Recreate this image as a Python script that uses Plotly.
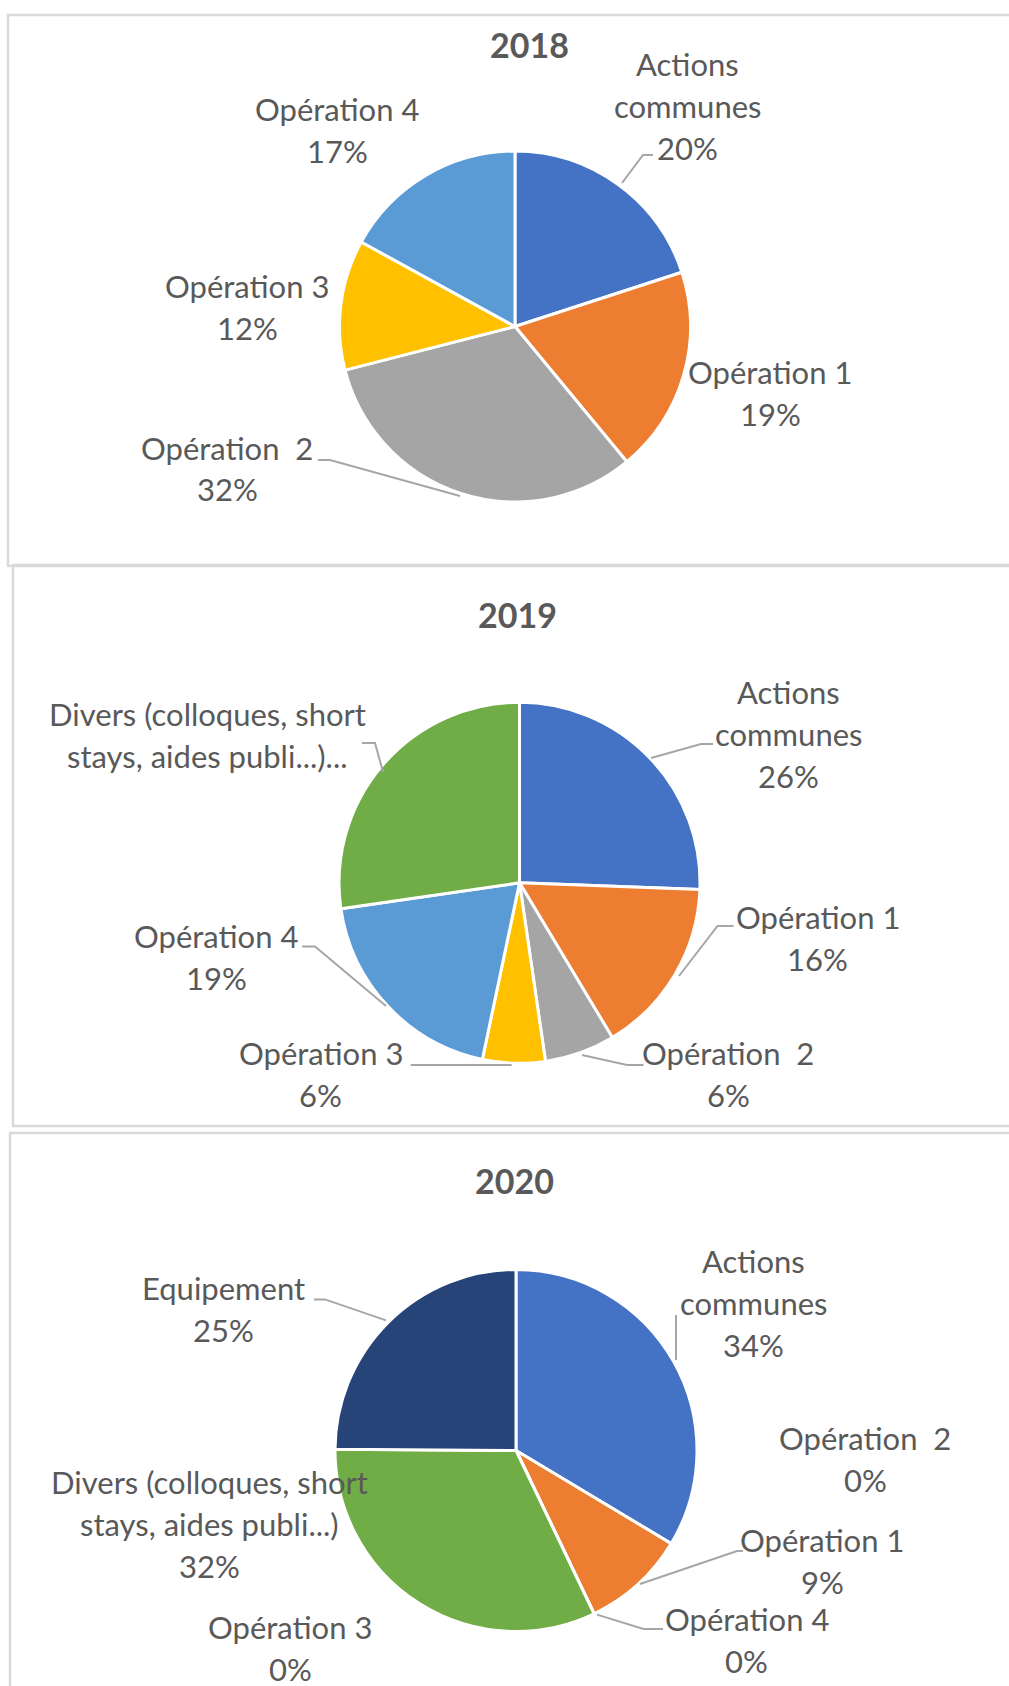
import plotly.graph_objects as go

W, H = 1009, 1686

# ---------------- data ----------------
years = ["2018", "2019", "2020"]

categories_2018 = ["Actions communes", "Opération 1", "Opération  2", "Opération 3", "Opération 4"]
values_2018 = [20, 19, 32, 12, 17]

categories_2019 = ["Actions communes", "Opération 1", "Opération  2", "Opération 3", "Opération 4",
                   "Divers (colloques, short stays, aides publi...)"]
values_2019 = [25.6, 15.8, 6.3, 5.6, 19.4, 27.3]

categories_2020 = ["Actions communes", "Opération 1", "Opération  2", "Opération 3", "Opération 4",
                   "Divers (colloques, short stays, aides publi...)", "Equipement"]
values_2020 = [33.6, 9.3, 0, 0, 0, 32.2, 24.9]

# ---------------- styles ----------------
colors = {
    "Actions communes": "#4472C4",
    "Opération 1": "#ED7D31",
    "Opération  2": "#A5A5A5",
    "Opération 3": "#FFC000",
    "Opération 4": "#5B9BD5",
    "Divers (colloques, short stays, aides publi...)": "#70AD47",
    "Equipement": "#264478",
}
wrap = {
    "Actions communes": ["Actions", "communes"],
    "Divers (colloques, short stays, aides publi...)": ["Divers (colloques, short", "stays, aides publi...)"],
}
truncated = {("2019", "Divers (colloques, short stays, aides publi...)")}

FONT = "Lato"
TXT = "#595959"
LEADER = "#A6A6A6"
LABEL_SIZE = 31
LINE_STEP = 42

# pie geometry in pixels (cx, cy, r)
pie_geom = {"2018": (515, 326.5, 175.5), "2019": (519.5, 882.8, 180.5), "2020": (516, 1450.5, 181)}
title_pos = {"2018": (529, 45), "2019": (517, 614.5), "2020": (514, 1180.5)}
panels = [(8, 15, 1030, 566), (13, 565, 1030, 1126), (10, 1133, 1030, 1710)]

# label placement: (x centre, y of first line centre, leader polyline or None)
placement = {
    "2018": {
        "Actions communes": (687, 64, [(622, 183), (643, 155), (653, 155)]),
        "Opération 1": (770, 372, None),
        "Opération  2": (227, 447.5, [(318, 460), (330, 460), (460, 496)]),
        "Opération 3": (247, 286, None),
        "Opération 4": (337, 108.6, None),
    },
    "2019": {
        "Actions communes": (788.5, 691.6, [(651, 758), (701, 744), (713, 744)]),
        "Opération 1": (817.5, 916.5, [(679, 976), (717.5, 926), (733.6, 926)]),
        "Opération  2": (728, 1053, [(582, 1055), (627, 1065), (643.5, 1065)]),
        "Opération 3": (320.5, 1053, [(410.6, 1065), (511.6, 1065)]),
        "Opération 4": (216, 936, [(302, 946.6), (315, 946.6), (386, 1006)]),
        "Divers (colloques, short stays, aides publi...)": (207.5, 714, [(362, 743), (375, 743), (383, 772)]),
    },
    "2020": {
        "Actions communes": (753, 1260.7, [(676, 1315), (676, 1360)]),
        "Opération 1": (822, 1540, [(640, 1584), (737, 1551), (743, 1551)]),
        "Opération  2": (865, 1438, None),
        "Opération 3": (290.4, 1626.5, None),
        "Opération 4": (746.5, 1619, [(597, 1614.6), (643.5, 1629), (663, 1629)]),
        "Divers (colloques, short stays, aides publi...)": (209.8, 1482, None),
        "Equipement": (223.7, 1287.6, [(314, 1299.4), (325, 1299.4), (386, 1320.4)]),
    },
}

data = {"2018": (categories_2018, values_2018),
        "2019": (categories_2019, values_2019),
        "2020": (categories_2020, values_2020)}


def px(x):
    return x / W


def py(y):
    return 1 - y / H


fig = go.Figure()
annotations = []
shapes = []

for x0, y0, x1, y1 in panels:
    shapes.append(dict(type="rect", xref="paper", yref="paper",
                       x0=px(x0), x1=px(x1), y0=py(y0), y1=py(y1),
                       line=dict(color="#D9D9D9", width=2.5), fillcolor="rgba(0,0,0,0)", layer="below"))

for yr in years:
    cats, vals = data[yr]
    cx, cy, r = pie_geom[yr]
    fig.add_trace(go.Pie(
        labels=cats, values=vals, sort=False, direction="clockwise", rotation=0,
        marker=dict(colors=[colors[c] for c in cats], line=dict(color="white", width=3)),
        textinfo="none", hoverinfo="label+percent", showlegend=False,
        domain=dict(x=[px(cx - r), px(cx + r)], y=[py(cy + r), py(cy - r)]),
    ))
    tx, ty = title_pos[yr]
    annotations.append(dict(x=px(tx), y=py(ty), xref="paper", yref="paper", text="<b>%s</b>" % yr,
                            showarrow=False, xanchor="center", yanchor="middle",
                            font=dict(family=FONT, size=34, color=TXT)))
    total = sum(vals)
    for c, v in zip(cats, vals):
        lx, ly, leader = placement[yr][c]
        lines = list(wrap.get(c, [c]))
        if (yr, c) in truncated:
            lines[-1] = lines[-1] + "..."
        else:
            lines.append("%d%%" % round(v / total * 100))
        for i, line in enumerate(lines):
            annotations.append(dict(x=px(lx), y=py(ly + i * LINE_STEP), xref="paper", yref="paper",
                                    text=line.replace("  ", " \u00a0"), showarrow=False,
                                    xanchor="center", yanchor="middle",
                                    font=dict(family=FONT, size=LABEL_SIZE, color=TXT)))
        if leader:
            path = "M " + " L ".join("%f %f" % (px(a), py(b)) for a, b in leader)
            shapes.append(dict(type="path", xref="paper", yref="paper", path=path,
                               line=dict(color=LEADER, width=2)))

fig.update_layout(width=W, height=H, margin=dict(l=0, r=0, t=0, b=0),
                  paper_bgcolor="white", plot_bgcolor="white",
                  annotations=annotations, shapes=shapes, font=dict(family=FONT, color=TXT))

fig.write_html("out.html", config={"displayModeBar": False},
               post_script="document.body.style.margin='0';document.body.style.overflow='hidden';")
